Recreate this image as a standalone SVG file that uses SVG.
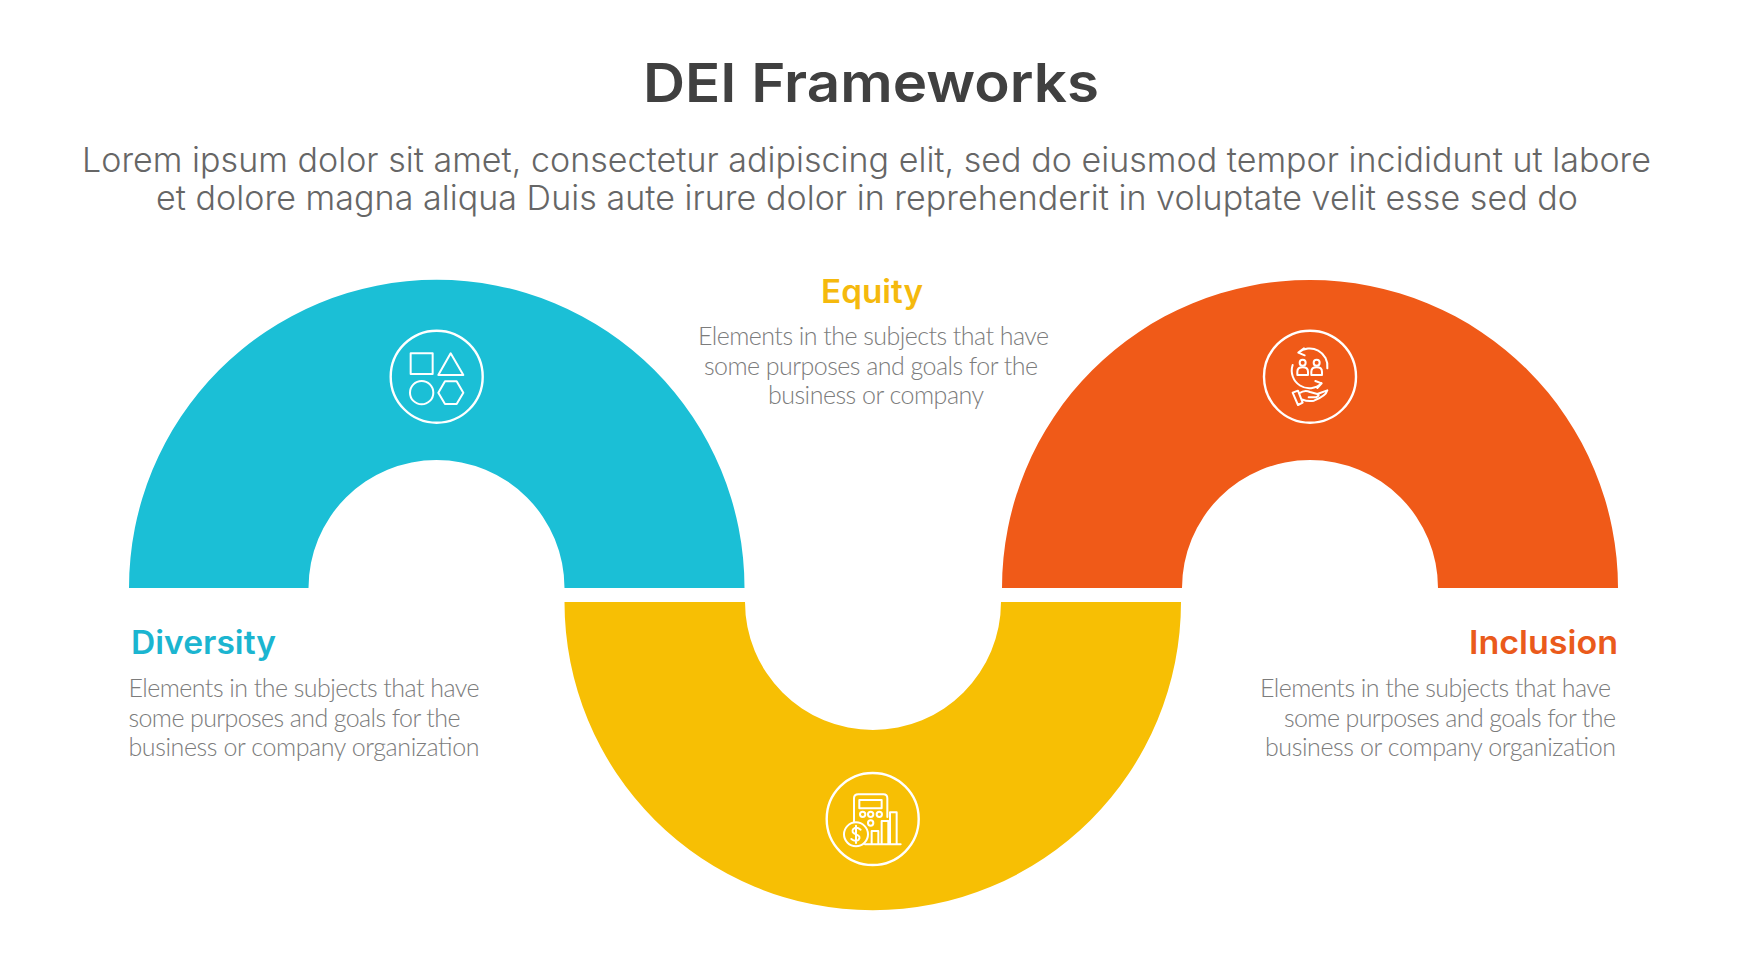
<svg xmlns="http://www.w3.org/2000/svg" width="1742" height="980" viewBox="0 0 1742 980">
<style>
.title{font-family:Inter,"Liberation Sans",sans-serif;font-weight:600;font-size:54px;fill:#404040}
.sub{font-family:Inter,"Noto Sans",sans-serif;font-weight:300;font-size:34px;fill:#666}
.head{font-family:Inter,"Liberation Sans",sans-serif;font-weight:600;font-size:32px}
.body{font-family:Lato,"Liberation Sans",sans-serif;font-weight:300;font-size:25px;fill:#7c7c7c}
.ic{fill:none;stroke:#fff;stroke-width:6;stroke-linejoin:round;stroke-linecap:round}
.ring{fill:none;stroke:#fff;stroke-width:2.4}
</style>
<rect width="1742" height="980" fill="#fff"/>
<text class="title" x="643" y="102" textLength="456" lengthAdjust="spacingAndGlyphs">DEI Frameworks</text>
<text class="sub" x="82" y="172" textLength="1569">Lorem ipsum dolor sit amet, consectetur adipiscing elit, sed do eiusmod tempor incididunt ut labore</text>
<text class="sub" x="156" y="210" textLength="1422">et dolore magna aliqua Duis aute irure dolor in reprehenderit in voluptate velit esse sed do</text>

<g id="diversity">
<path d="M129 588A307.5 308 0 0 1 744.5 588H564.5A128 128 0 0 0 308.5 588Z" fill="#1bbfd6"/>
<circle class="ring" cx="436.7" cy="376.7" r="46"/>
<g transform="translate(360 310) scale(.3333)">
<rect class="ic" x="152" y="130" width="66" height="62"/>
<path class="ic" d="M272 130L235 195H310Z"/>
<circle class="ic" cx="185" cy="248" r="35"/>
<path class="ic" d="M235 248L255 214H290L310 248L290 282H255Z"/>
</g>
<text class="head" x="131" y="654" fill="#1bb5d0" textLength="145" lengthAdjust="spacingAndGlyphs">Diversity</text>
<text class="body" x="128.5" y="697" textLength="351">Elements in the subjects that have</text>
<text class="body" x="128.5" y="727" textLength="332">some purposes and goals for the</text>
<text class="body" x="128.5" y="756" textLength="351">business or company organization</text>
</g>

<g id="equity">
<path d="M564.5 602A308 308 0 0 0 1181 602H1001A128 128 0 0 1 745 602Z" fill="#f7bf04"/>
<circle class="ring" cx="872.7" cy="819" r="46"/>
<g transform="translate(800 755) scale(.3333)">
<path class="ic" d="M162 200V130Q162 118 175 118H250Q262 118 262 130V186"/>
<rect class="ic" x="178" y="135" width="67" height="25"/>
<circle class="ic" cx="188" cy="178" r="8"/>
<circle class="ic" cx="212" cy="178" r="8"/>
<circle class="ic" cx="238" cy="178" r="8"/>
<circle class="ic" cx="212" cy="204" r="8"/>
<circle class="ic" cx="168" cy="238" r="36"/>
<path class="ic" d="M182 224Q170 214 160 222Q152 232 168 238Q184 244 176 254Q166 262 154 252M168 212V264"/>
<path class="ic" d="M215 268V228H235V268M245 268V198H265V268M270 268V172H290V268M195 268H302"/>
</g>
<text class="head" x="821" y="303" fill="#f5b90d" textLength="102" lengthAdjust="spacingAndGlyphs">Equity</text>
<text class="body" x="698" y="345" textLength="351">Elements in the subjects that have</text>
<text class="body" x="704" y="375" textLength="334">some purposes and goals for the</text>
<text class="body" x="768" y="404" textLength="216">business or company</text>
</g>

<g id="inclusion">
<path d="M1002 588A308 308 0 0 1 1618 588H1438A128 128 0 0 0 1182 588Z" fill="#f05a18"/>
<circle class="ring" cx="1310" cy="376.7" r="46"/>
<g transform="translate(1230 310) scale(.3333)">
<path class="ic" d="M292 175A53 53 0 0 0 205 128M205 128L222 115M205 128L224 136"/>
<path class="ic" d="M188 165A53 53 0 0 0 275 220M275 220L256 213M275 220L262 234"/>
<circle class="ic" cx="218" cy="158" r="9"/>
<circle class="ic" cx="260" cy="158" r="9"/>
<path class="ic" d="M202 195V185Q202 172 218 172Q234 172 234 185V195ZM244 195V185Q244 172 260 172Q276 172 276 185V195Z"/>
<path class="ic" d="M188 248L204 285L218 278L204 242ZM208 250Q224 238 240 246L262 252Q272 256 258 262H236M262 252L292 241Q288 258 252 272Q234 276 216 268"/>
</g>
<text class="head" x="1469" y="654" fill="#ea5a1b" textLength="149" lengthAdjust="spacingAndGlyphs">Inclusion</text>
<text class="body" x="1260" y="697" textLength="351">Elements in the subjects that have</text>
<text class="body" x="1284" y="727" textLength="332">some purposes and goals for the</text>
<text class="body" x="1265" y="756" textLength="351">business or company organization</text>
</g>
</svg>
